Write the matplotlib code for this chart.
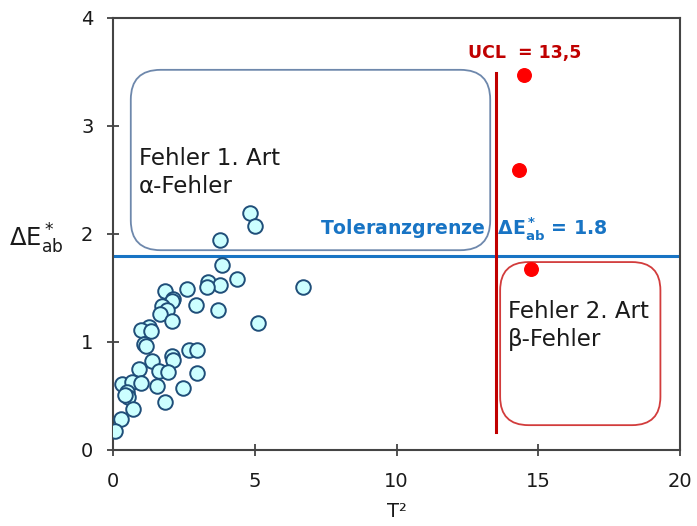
import numpy as np
import matplotlib.pyplot as plt
from matplotlib.patches import FancyBboxPatch

plt.rcParams['font.family'] = ['DejaVu Sans']
plt.rcParams['mathtext.default'] = 'regular'

# samples in control (T^2, dE*ab)
t2_ok = [4.83, 5.01, 3.77, 3.83, 4.36, 3.36, 3.77, 3.33, 2.62, 6.71,
         1.83, 2.13, 2.10, 2.92, 1.72, 1.89, 1.66, 3.72, 2.07, 5.13,
         1.28, 0.98, 1.33, 1.11, 1.15, 2.68, 2.97, 2.07, 2.13, 1.39,
         0.93, 1.62, 1.95, 2.97, 0.31, 0.66, 0.99, 1.56, 2.46, 0.48,
         0.54, 0.43, 1.83, 0.72, 0.27, 0.07]
de_ok = [2.19, 2.07, 1.94, 1.71, 1.58, 1.56, 1.53, 1.51, 1.49, 1.51,
         1.47, 1.40, 1.38, 1.34, 1.33, 1.30, 1.26, 1.30, 1.19, 1.18,
         1.14, 1.11, 1.10, 0.98, 0.96, 0.93, 0.93, 0.87, 0.83, 0.82,
         0.75, 0.73, 0.72, 0.71, 0.61, 0.63, 0.62, 0.59, 0.57, 0.54,
         0.49, 0.51, 0.44, 0.38, 0.29, 0.18]

# out of control samples
t2_out = [14.50, 14.32, 14.74]
de_out = [3.47, 2.59, 1.68]

ucl = 13.5
tol = 1.8

fig = plt.figure(figsize=(6.97, 5.26), dpi=100)
ax = fig.add_axes([0.162, 0.1445, 0.814, 0.8213])

# error regions
aspect = (526 * 0.8213 / 4) / (697 * 0.814 / 20)
box1 = FancyBboxPatch((0.63, 1.85), 12.67, 1.67,
                      boxstyle="round,pad=0,rounding_size=1.05",
                      mutation_aspect=1 / aspect,
                      fc='none', ec='#6E88AC', lw=1.3, zorder=1)
box2 = FancyBboxPatch((13.65, 0.23), 5.65, 1.51,
                      boxstyle="round,pad=0,rounding_size=1.0",
                      mutation_aspect=1 / aspect,
                      fc='none', ec='#D23C3C', lw=1.3, zorder=1)
ax.add_patch(box1)
ax.add_patch(box2)

ax.axhline(tol, color='#1874C4', lw=2.2, zorder=2)
ax.plot([ucl, ucl], [0.17, 3.49], color='#C00000', lw=2.2, zorder=2)

ax.scatter(t2_ok, de_ok, s=110, facecolor='#CCFFFF', edgecolor='#1F4E79',
           linewidth=1.4, zorder=3)
ax.scatter(t2_out, de_out, s=95, color='#FF0000', zorder=3)

ax.text(0.92, 2.57, 'Fehler 1. Art\n\u03b1-Fehler', fontsize=16.5,
        color='#1a1a1a', va='center', ha='left', linespacing=1.3)
ax.text(13.93, 1.15, 'Fehler 2. Art\n\u03b2-Fehler', fontsize=16.5,
        color='#1a1a1a', va='center', ha='left', linespacing=1.3)
ax.text(7.3, 2.05, r'Toleranzgrenze  $\mathbf{\Delta E^*_{ab}}$ = 1.8',
        fontsize=13.6, fontweight='bold', color='#1874C4',
        va='center', ha='left')
ax.text(12.5, 3.68, 'UCL  = 13,5', fontsize=12.5, fontweight='bold',
        color='#C00000', va='center', ha='left')

ax.set_xlim(0, 20)
ax.set_ylim(0, 4)
ax.set_xticks([0, 5, 10, 15, 20])
ax.set_yticks([0, 1, 2, 3, 4])
ax.tick_params(direction='inout', length=8, width=1.2, labelsize=14,
               colors='#333333', labelcolor='#1a1a1a')
ax.tick_params(axis='x', pad=12)
ax.tick_params(axis='y', pad=10)
for sp in ax.spines.values():
    sp.set_color('#444444')
    sp.set_linewidth(1.5)

ax.set_xlabel('T\u00b2', fontsize=14, color='#1a1a1a', labelpad=8)
fig.text(0.013, 0.545, r'$\Delta$E$^*_{ab}$', fontsize=17.5, color='#1a1a1a',
         va='center', ha='left')

fig.savefig('out.png', dpi=100)
